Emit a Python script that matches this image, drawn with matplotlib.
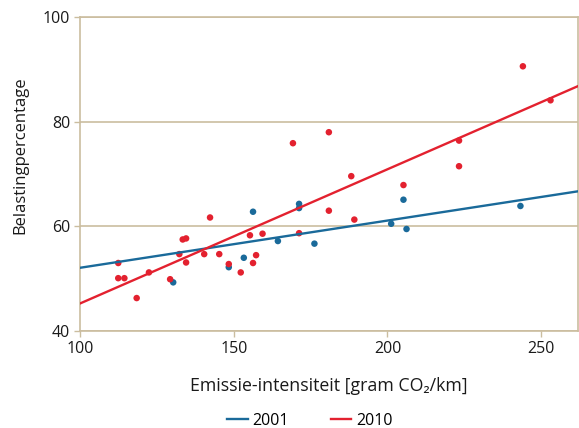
import matplotlib
matplotlib.use("Agg")
import numpy as np
import matplotlib.pyplot as plt

plt.rcParams['font.family'] = ['Open Sans', 'DejaVu Sans']

# emission intensity (gram CO2/km) and tax share (%) per car model
x_2001 = [130.2, 148.3, 153.2, 156.2, 164.3, 171.2, 171.2, 176.2, 201.2, 205.2, 206.2, 243.3]
y_2001 = [49.3, 52.2, 54.0, 62.8, 57.2, 64.3, 63.5, 56.7, 60.5, 65.1, 59.5, 63.9]

x_2010 = [112.3, 112.3, 114.3, 118.3, 122.3, 129.2, 132.2, 133.3, 134.4, 134.4,
          140.3, 142.2, 145.2, 148.3, 152.2, 155.2, 156.2, 157.2, 159.3, 169.2,
          171.2, 180.9, 180.9, 188.2, 189.2, 205.2, 223.3, 223.3, 244.1, 253.1]
y_2010 = [53.0, 50.1, 50.1, 46.3, 51.2, 49.9, 54.7, 57.5, 57.7, 53.1,
          54.7, 61.7, 54.7, 52.8, 51.2, 58.3, 53.0, 54.5, 58.6, 75.9,
          58.7, 78.0, 63.0, 69.6, 61.3, 67.9, 76.4, 71.5, 90.6, 84.1]

# trend lines
trend_x = [100, 262]
trend_2001 = [52.1, 66.7]
trend_2010 = [45.3, 86.8]

blue = '#1a6a9a'
red = '#e3212f'
tan = '#cbbd9f'

fig = plt.figure(figsize=(5.79, 4.28), dpi=100)
ax = fig.add_axes([0.139, 0.2266, 0.859, 0.7334])

ax.scatter(x_2001, y_2001, s=22, color=blue, edgecolors='none', zorder=3)
ax.scatter(x_2010, y_2010, s=22, color=red, edgecolors='none', zorder=3)
ax.plot(trend_x, trend_2001, color=blue, lw=1.7, label='2001', zorder=4)
ax.plot(trend_x, trend_2010, color=red, lw=1.7, label='2010', zorder=4)

ax.set_xlim(100, 262)
ax.set_ylim(40, 100)
ax.set_xticks([100, 150, 200, 250])
ax.set_yticks([40, 60, 80, 100])
ax.yaxis.grid(True, color=tan, lw=1.2)
ax.set_axisbelow(True)
for s in ax.spines.values():
    s.set_color(tan)
    s.set_linewidth(1.2)
ax.tick_params(colors=tan, labelcolor='#1a1a1a', labelsize=11.5, length=4, width=1)

ax.set_xlabel('Emissie-intensiteit [gram CO₂/km]', fontsize=12.8, color='#1a1a1a', labelpad=14)
ax.set_ylabel('Belastingpercentage', fontsize=12, color='#1a1a1a', labelpad=12)
ax.yaxis.set_label_coords(-0.105, 0.56)

fig.legend(loc='lower center', bbox_to_anchor=(0.535, -0.035), ncol=2, frameon=False,
           fontsize=11.5, handlelength=1.3, handletextpad=0.3, columnspacing=2.6)

fig.savefig('out.png', dpi=100)
